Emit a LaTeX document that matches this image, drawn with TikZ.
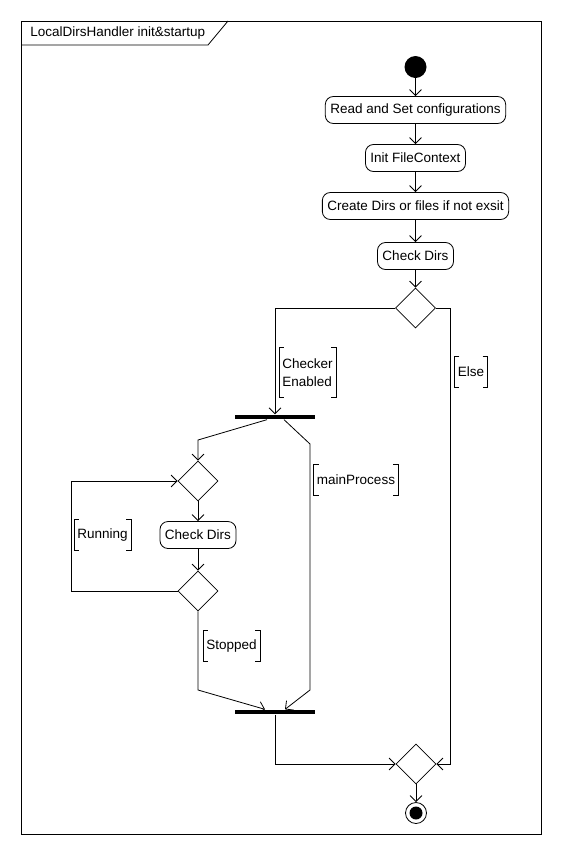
\documentclass[tikz,border=0pt]{standalone}
\usepackage{fontspec}
\setmainfont{Liberation Sans}
\usetikzlibrary{shapes.geometric,arrows.meta}
\newcommand\gbr[1]{%
  \draw ([xshift=5pt]#1.north west) -- (#1.north west) -- (#1.south west) -- ([xshift=5pt]#1.south west);
  \draw ([xshift=-5pt]#1.north east) -- (#1.north east) -- (#1.south east) -- ([xshift=-5pt]#1.south east);}
\begin{document}
\begin{tikzpicture}[x=1pt,y=-1pt,
  font=\fontsize{13.5}{18}\selectfont,
  line width=0.8pt,
  act/.style={draw,rounded corners=8pt,minimum height=27pt,inner xsep=5pt,inner ysep=0pt},
  dec/.style={draw,diamond,minimum width=40pt,minimum height=40pt,inner sep=0pt,aspect=1},
  bar/.style={fill=black,minimum width=80pt,minimum height=4.5pt,inner sep=0pt},
  guard/.style={inner xsep=3pt,inner ysep=0pt,minimum height=30pt,align=left},
  arr/.style={-{Straight Barb[length=6pt,width=12pt]}},
]
\useasboundingbox[fill=white] (0,0) rectangle (562,855);
% frame
\node[draw,minimum width=520pt,minimum height=813pt,inner sep=0pt,anchor=north west] (frame) at (21,21) {};
\node[anchor=west,inner sep=0pt] (title) at (30,33) {LocalDirsHandler init\&startup};
\draw (frame.north west |- 0,45) -- (208,45) -- (228,21);
% nodes
\node[circle,fill=black,minimum size=22pt,inner sep=0pt] (start) at (415.5,67) {};
\node[act] (read) at (415.5,110) {Read and Set configurations};
\node[act] (init) at (415.5,158) {Init FileContext};
\node[act] (create) at (415.5,206) {Create Dirs or files if not exsit};
\node[act] (check1) at (415.5,256) {Check Dirs};
\node[dec] (d1) at (415.5,308) {};
\node[bar] (fork) at (275,417) {};
\node[dec] (d2) at (198,481) {};
\node[act] (check2) at (198,535) {Check Dirs};
\node[dec] (d3) at (198,591) {};
\node[bar] (join) at (275,712) {};
\node[dec] (merge) at (416,764) {};
\node[circle,draw,fill=white,minimum size=21pt,inner sep=0pt] (final) at (416,813) {};
\fill (final.center) circle (6.5);
% guards
\node[guard,minimum height=49pt] (gce) at (307.5,372.5) {Checker\\Enabled};
\node[guard] (gelse) at (471,372) {Else};
\node[guard] (gmain) at (356,480) {mainProcess};
\node[guard] (grun) at (102.5,535) {Running};
\node[guard] (gstop) at (231.5,646) {Stopped};
\gbr{gce}\gbr{gelse}\gbr{gmain}\gbr{grun}\gbr{gstop}
% helper coordinates
\coordinate (b1) at (198,440);
\coordinate (b2) at (310,444);
\coordinate (b3) at (310,690);
\coordinate (b4) at (71,591);
\coordinate (b5) at (198,690);
% edges
\draw[arr] (start) -- (read);
\draw[arr] (read) -- (init);
\draw[arr] (init) -- (create);
\draw[arr] (create) -- (check1);
\draw[arr] (check1) -- (d1);
\draw[arr] (d1.west) -| (fork.north);
\draw[arr] (d1.east) -- ++(14,0) |- (merge.east);
\draw[arr] ([xshift=-8pt]fork.south) -- (b1) -- (d2.north);
\draw[arr] ([xshift=9pt]fork.south) -- (b2) -- (b3) -- ([xshift=10pt]join.north);
\draw[arr] (d2) -- (check2);
\draw[arr] (check2) -- (d3);
\draw[arr] (d3.west) -- (b4) |- (d2.west);
\draw[arr] (d3.south) -- (b5) -- ([xshift=-10pt]join.north);
\draw[arr] (join.south) |- (merge.west);
\draw[arr] (merge) -- (final);
\end{tikzpicture}
\end{document}
